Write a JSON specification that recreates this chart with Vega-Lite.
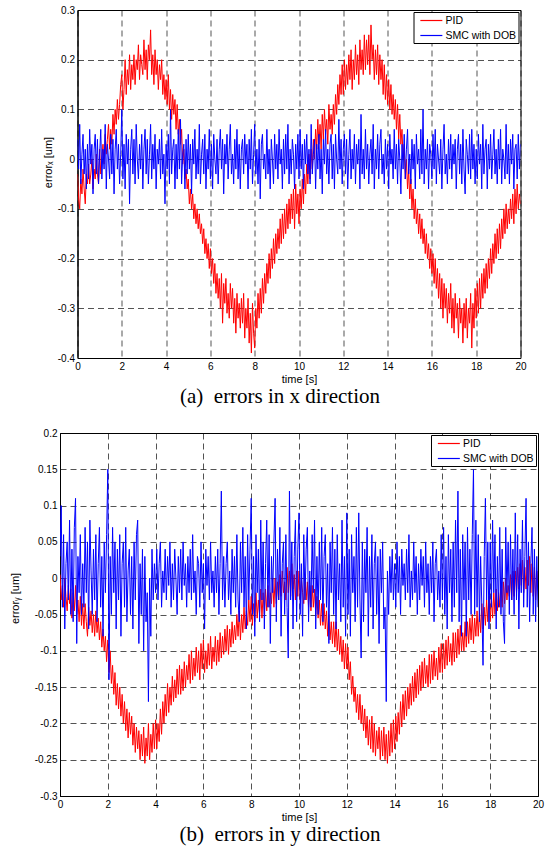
{
"$schema": "https://vega.github.io/schema/vega-lite/v6.json",
"background": "white",
"padding": {"left": 8, "top": 4, "right": 5, "bottom": 0},
"spacing": 75,
"center": true,
"bounds": "flush",
"config": {
  "font": "Liberation Sans",
  "view": {"stroke": "#000", "strokeWidth": 1},
  "axis": {"domainColor": "#000", "domainWidth": 1, "grid": true, "gridColor": "#000", "gridDash": [6, 4], "gridWidth": 0.8, "gridOpacity": 0.85, "ticks": false, "labelFont": "Liberation Sans", "labelFontSize": 10, "labelColor": "#000", "labelPadding": 3, "titleFont": "Liberation Sans", "titleFontSize": 11, "titleFontWeight": "normal", "titleColor": "#000", "labelFlush": false, "labelOverlap": false},
  "legend": {"orient": "top-right", "offset": 2, "strokeColor": "#000", "fillColor": "#fff", "padding": 2, "symbolType": "M-0.3,0H3.7", "symbolSize": 121, "symbolStrokeWidth": 1.2, "labelFont": "Liberation Sans", "labelFontSize": 10.5, "labelColor": "#000", "labelOffset": 17, "rowPadding": 3},
  "title": {"font": "Liberation Serif", "fontSize": 21, "fontWeight": "normal", "color": "#000", "orient": "bottom", "anchor": "middle", "offset": 2}
},
"datasets": {
"a": [
{"t":0,"p":-0.03,"s":0.04},{"t":0.05,"p":-0.08,"s":-0.02},{"t":0.1,"p":-0.1,"s":0.07},{"t":0.15,"p":-0.04,"s":-0.05},{"t":0.2,"p":-0.07,"s":0.01},{"t":0.25,"p":-0.02,"s":0.05},{"t":0.3,"p":-0.06,"s":-0.03},{"t":0.35,"p":-0.09,"s":0.02},{"t":0.4,"p":-0.03,"s":-0.06},{"t":0.45,"p":-0.05,"s":0.03},
{"t":0.5,"p":-0.01,"s":-0.04},{"t":0.55,"p":-0.05,"s":0.06},{"t":0.6,"p":-0.03,"s":-0.01},{"t":0.65,"p":0,"s":0.03},{"t":0.7,"p":-0.06,"s":-0.07},{"t":0.75,"p":-0.02,"s":0.02},{"t":0.8,"p":-0.04,"s":0.05},{"t":0.85,"p":0.01,"s":-0.03},{"t":0.9,"p":-0.03,"s":0.04},{"t":0.95,"p":-0.05,"s":-0.05},
{"t":1,"p":0.02,"s":0.01},{"t":1.05,"p":-0.03,"s":0.06},{"t":1.1,"p":0,"s":-0.04},{"t":1.15,"p":0.03,"s":0.02},{"t":1.2,"p":-0.01,"s":-0.02},{"t":1.25,"p":0.05,"s":0.07},{"t":1.3,"p":0.01,"s":-0.06},{"t":1.35,"p":0.04,"s":0.03},{"t":1.4,"p":0.07,"s":0},{"t":1.45,"p":0.02,"s":-0.04},
{"t":1.5,"p":0.06,"s":0.05},{"t":1.55,"p":0.03,"s":-0.03},{"t":1.6,"p":0.09,"s":0.04},{"t":1.65,"p":0.05,"s":-0.07},{"t":1.7,"p":0.1,"s":0.02},{"t":1.75,"p":0.07,"s":0.06},{"t":1.8,"p":0.12,"s":-0.02},{"t":1.85,"p":0.08,"s":0.03},{"t":1.9,"p":0.11,"s":-0.05},{"t":1.95,"p":0.15,"s":0.01},
{"t":2,"p":0.17,"s":0.1},{"t":2.05,"p":0.1,"s":-0.04},{"t":2.1,"p":0.14,"s":0.03},{"t":2.15,"p":0.2,"s":-0.06},{"t":2.2,"p":0.13,"s":0.05},{"t":2.25,"p":0.18,"s":-0.01},{"t":2.3,"p":0.15,"s":0.04},{"t":2.35,"p":0.21,"s":-0.09},{"t":2.4,"p":0.14,"s":0.02},{"t":2.45,"p":0.19,"s":0.06},
{"t":2.5,"p":0.16,"s":-0.03},{"t":2.55,"p":0.21,"s":0.04},{"t":2.6,"p":0.15,"s":-0.05},{"t":2.65,"p":0.2,"s":0.07},{"t":2.7,"p":0.18,"s":0},{"t":2.75,"p":0.23,"s":-0.04},{"t":2.8,"p":0.16,"s":0.03},{"t":2.85,"p":0.21,"s":-0.02},{"t":2.9,"p":0.19,"s":0.05},{"t":2.95,"p":0.17,"s":-0.06},
{"t":3,"p":0.24,"s":0.02},{"t":3.05,"p":0.18,"s":0.06},{"t":3.1,"p":0.22,"s":-0.03},{"t":3.15,"p":0.16,"s":0.04},{"t":3.2,"p":0.23,"s":-0.05},{"t":3.25,"p":0.2,"s":0.01},{"t":3.3,"p":0.26,"s":0.07},{"t":3.35,"p":0.17,"s":-0.04},{"t":3.4,"p":0.21,"s":0.03},{"t":3.45,"p":0.15,"s":-0.02},
{"t":3.5,"p":0.22,"s":0.05},{"t":3.55,"p":0.17,"s":-0.06},{"t":3.6,"p":0.2,"s":0.02},{"t":3.65,"p":0.14,"s":-0.01},{"t":3.7,"p":0.19,"s":0.04},{"t":3.75,"p":0.16,"s":-0.04},{"t":3.8,"p":0.2,"s":0.06},{"t":3.85,"p":0.13,"s":-0.03},{"t":3.9,"p":0.17,"s":0.01},{"t":3.95,"p":0.12,"s":-0.09},
{"t":4,"p":0.16,"s":0.03},{"t":4.05,"p":0.11,"s":-0.02},{"t":4.1,"p":0.17,"s":0.05},{"t":4.15,"p":0.1,"s":-0.05},{"t":4.2,"p":0.14,"s":0.1},{"t":4.25,"p":0.08,"s":-0.03},{"t":4.3,"p":0.13,"s":0.02},{"t":4.35,"p":0.09,"s":0.04},{"t":4.4,"p":0.12,"s":-0.06},{"t":4.45,"p":0.06,"s":0.03},
{"t":4.5,"p":0.11,"s":-0.04},{"t":4.55,"p":0.05,"s":0.06},{"t":4.6,"p":0.08,"s":-0.02},{"t":4.65,"p":0.03,"s":0.08},{"t":4.7,"p":0.06,"s":-0.05},{"t":4.75,"p":-0.01,"s":0.01},{"t":4.8,"p":0.02,"s":0.03},{"t":4.85,"p":-0.04,"s":-0.06},{"t":4.9,"p":-0.02,"s":0.04},{"t":4.95,"p":-0.06,"s":-0.03},
{"t":5,"p":-0.04,"s":0.05},{"t":5.05,"p":-0.09,"s":-0.02},{"t":5.1,"p":-0.06,"s":0.03},{"t":5.15,"p":-0.1,"s":-0.07},{"t":5.2,"p":-0.07,"s":0.04},{"t":5.25,"p":-0.12,"s":-0.01},{"t":5.3,"p":-0.09,"s":0.06},{"t":5.35,"p":-0.13,"s":-0.04},{"t":5.4,"p":-0.1,"s":0.02},{"t":5.45,"p":-0.14,"s":-0.03},
{"t":5.5,"p":-0.11,"s":0.07},{"t":5.55,"p":-0.15,"s":-0.05},{"t":5.6,"p":-0.13,"s":0.01},{"t":5.65,"p":-0.17,"s":0.04},{"t":5.7,"p":-0.14,"s":-0.03},{"t":5.75,"p":-0.19,"s":0.05},{"t":5.8,"p":-0.16,"s":-0.06},{"t":5.85,"p":-0.2,"s":0.02},{"t":5.9,"p":-0.17,"s":-0.02},{"t":5.95,"p":-0.22,"s":0.06},
{"t":6,"p":-0.18,"s":-0.04},{"t":6.05,"p":-0.23,"s":0.03},{"t":6.1,"p":-0.2,"s":-0.06},{"t":6.15,"p":-0.25,"s":0.05},{"t":6.2,"p":-0.21,"s":0},{"t":6.25,"p":-0.27,"s":-0.03},{"t":6.3,"p":-0.23,"s":0.04},{"t":6.35,"p":-0.28,"s":-0.05},{"t":6.4,"p":-0.24,"s":0.02},{"t":6.45,"p":-0.3,"s":0.06},
{"t":6.5,"p":-0.23,"s":-0.02},{"t":6.55,"p":-0.33,"s":0.04},{"t":6.6,"p":-0.25,"s":-0.07},{"t":6.65,"p":-0.29,"s":0.03},{"t":6.7,"p":-0.24,"s":-0.01},{"t":6.75,"p":-0.31,"s":0.05},{"t":6.8,"p":-0.27,"s":-0.04},{"t":6.85,"p":-0.32,"s":0.02},{"t":6.9,"p":-0.25,"s":0.07},{"t":6.95,"p":-0.3,"s":-0.03},
{"t":7,"p":-0.26,"s":0.01},{"t":7.05,"p":-0.33,"s":-0.05},{"t":7.1,"p":-0.28,"s":0.04},{"t":7.15,"p":-0.35,"s":-0.02},{"t":7.2,"p":-0.27,"s":0.06},{"t":7.25,"p":-0.32,"s":-0.04},{"t":7.3,"p":-0.29,"s":0.03},{"t":7.35,"p":-0.34,"s":-0.06},{"t":7.4,"p":-0.28,"s":0.02},{"t":7.45,"p":-0.33,"s":0.04},
{"t":7.5,"p":-0.27,"s":-0.03},{"t":7.55,"p":-0.36,"s":0.05},{"t":7.6,"p":-0.3,"s":-0.01},{"t":7.65,"p":-0.34,"s":0.03},{"t":7.7,"p":-0.28,"s":-0.06},{"t":7.75,"p":-0.37,"s":0.04},{"t":7.8,"p":-0.31,"s":-0.02},{"t":7.85,"p":-0.39,"s":0.06},{"t":7.9,"p":-0.29,"s":-0.05},{"t":7.95,"p":-0.35,"s":0.01},
{"t":8,"p":-0.38,"s":0.07},{"t":8.05,"p":-0.3,"s":-0.03},{"t":8.1,"p":-0.34,"s":0.02},{"t":8.15,"p":-0.27,"s":-0.05},{"t":8.2,"p":-0.32,"s":0.04},{"t":8.25,"p":-0.26,"s":-0.08},{"t":8.3,"p":-0.31,"s":0.03},{"t":8.35,"p":-0.24,"s":0.05},{"t":8.4,"p":-0.29,"s":-0.02},{"t":8.45,"p":-0.23,"s":0.01},
{"t":8.5,"p":-0.27,"s":-0.04},{"t":8.55,"p":-0.21,"s":0.06},{"t":8.6,"p":-0.25,"s":-0.03},{"t":8.65,"p":-0.19,"s":0.02},{"t":8.7,"p":-0.24,"s":-0.06},{"t":8.75,"p":-0.18,"s":0.04},{"t":8.8,"p":-0.22,"s":0},{"t":8.85,"p":-0.16,"s":-0.05},{"t":8.9,"p":-0.21,"s":0.05},{"t":8.95,"p":-0.15,"s":-0.02},
{"t":9,"p":-0.19,"s":0.03},{"t":9.05,"p":-0.14,"s":-0.04},{"t":9.1,"p":-0.18,"s":0.06},{"t":9.15,"p":-0.12,"s":-0.01},{"t":9.2,"p":-0.17,"s":0.02},{"t":9.25,"p":-0.11,"s":-0.06},{"t":9.3,"p":-0.16,"s":0.04},{"t":9.35,"p":-0.1,"s":-0.03},{"t":9.4,"p":-0.15,"s":0.05},{"t":9.45,"p":-0.09,"s":-0.02},
{"t":9.5,"p":-0.14,"s":0.07},{"t":9.55,"p":-0.08,"s":-0.05},{"t":9.6,"p":-0.13,"s":0.02},{"t":9.65,"p":-0.07,"s":-0.03},{"t":9.7,"p":-0.12,"s":0.04},{"t":9.75,"p":-0.06,"s":0.01},{"t":9.8,"p":-0.14,"s":-0.06},{"t":9.85,"p":-0.05,"s":0.03},{"t":9.9,"p":-0.11,"s":-0.02},{"t":9.95,"p":-0.07,"s":0.05},
{"t":10,"p":-0.13,"s":-0.04},{"t":10.05,"p":-0.06,"s":0.06},{"t":10.1,"p":-0.1,"s":-0.02},{"t":10.15,"p":-0.04,"s":0.03},{"t":10.2,"p":-0.09,"s":-0.06},{"t":10.25,"p":-0.03,"s":0.04},{"t":10.3,"p":-0.07,"s":-0.01},{"t":10.35,"p":-0.01,"s":0.05},{"t":10.4,"p":-0.05,"s":-0.03},{"t":10.45,"p":0.01,"s":0.02},
{"t":10.5,"p":-0.04,"s":-0.05},{"t":10.55,"p":0.02,"s":0.07},{"t":10.6,"p":-0.02,"s":-0.03},{"t":10.65,"p":0.04,"s":0.01},{"t":10.7,"p":0,"s":0.04},{"t":10.75,"p":0.06,"s":-0.06},{"t":10.8,"p":0.02,"s":0.03},{"t":10.85,"p":0.08,"s":-0.02},{"t":10.9,"p":0.03,"s":0.05},{"t":10.95,"p":0.07,"s":-0.04},
{"t":11,"p":0.02,"s":0.02},{"t":11.05,"p":0.09,"s":-0.07},{"t":11.1,"p":0.04,"s":0.04},{"t":11.15,"p":0.1,"s":-0.01},{"t":11.2,"p":0.05,"s":0.06},{"t":11.25,"p":0.08,"s":-0.03},{"t":11.3,"p":0.03,"s":0.02},{"t":11.35,"p":0.11,"s":-0.05},{"t":11.4,"p":0.06,"s":0.03},{"t":11.45,"p":0.09,"s":0.05},
{"t":11.5,"p":0.05,"s":-0.04},{"t":11.55,"p":0.11,"s":0.03},{"t":11.6,"p":0.07,"s":-0.06},{"t":11.65,"p":0.13,"s":0.05},{"t":11.7,"p":0.09,"s":0},{"t":11.75,"p":0.15,"s":-0.03},{"t":11.8,"p":0.11,"s":0.08},{"t":11.85,"p":0.17,"s":-0.02},{"t":11.9,"p":0.13,"s":0.04},{"t":11.95,"p":0.19,"s":-0.05},
{"t":12,"p":0.13,"s":0.02},{"t":12.05,"p":0.2,"s":0.05},{"t":12.1,"p":0.14,"s":-0.03},{"t":12.15,"p":0.19,"s":0.04},{"t":12.2,"p":0.15,"s":-0.06},{"t":12.25,"p":0.21,"s":0.01},{"t":12.3,"p":0.16,"s":0.06},{"t":12.35,"p":0.22,"s":-0.04},{"t":12.4,"p":0.14,"s":0.02},{"t":12.45,"p":0.2,"s":-0.02},
{"t":12.5,"p":0.16,"s":0.05},{"t":12.55,"p":0.23,"s":-0.05},{"t":12.6,"p":0.17,"s":0.03},{"t":12.65,"p":0.21,"s":-0.01},{"t":12.7,"p":0.15,"s":0.04},{"t":12.75,"p":0.24,"s":-0.06},{"t":12.8,"p":0.18,"s":0.09},{"t":12.85,"p":0.22,"s":-0.03},{"t":12.9,"p":0.17,"s":0.02},{"t":12.95,"p":0.25,"s":-0.04},
{"t":13,"p":0.18,"s":0.06},{"t":13.05,"p":0.24,"s":-0.02},{"t":13.1,"p":0.19,"s":0.03},{"t":13.15,"p":0.25,"s":-0.05},{"t":13.2,"p":0.17,"s":0.01},{"t":13.25,"p":0.27,"s":0.04},{"t":13.3,"p":0.2,"s":-0.03},{"t":13.35,"p":0.23,"s":0.07},{"t":13.4,"p":0.16,"s":-0.06},{"t":13.45,"p":0.22,"s":0.02},
{"t":13.5,"p":0.17,"s":-0.02},{"t":13.55,"p":0.23,"s":0.05},{"t":13.6,"p":0.15,"s":-0.04},{"t":13.65,"p":0.21,"s":0.03},{"t":13.7,"p":0.16,"s":0.06},{"t":13.75,"p":0.2,"s":-0.03},{"t":13.8,"p":0.13,"s":0.01},{"t":13.85,"p":0.19,"s":-0.05},{"t":13.9,"p":0.12,"s":0.04},{"t":13.95,"p":0.17,"s":-0.02},
{"t":14,"p":0.11,"s":0.03},{"t":14.05,"p":0.16,"s":-0.06},{"t":14.1,"p":0.1,"s":0.05},{"t":14.15,"p":0.15,"s":-0.01},{"t":14.2,"p":0.09,"s":0.02},{"t":14.25,"p":0.13,"s":-0.04},{"t":14.3,"p":0.08,"s":0.06},{"t":14.35,"p":0.12,"s":-0.02},{"t":14.4,"p":0.06,"s":0.03},{"t":14.45,"p":0.11,"s":-0.05},
{"t":14.5,"p":0.04,"s":0.04},{"t":14.55,"p":0.09,"s":0},{"t":14.6,"p":0.03,"s":-0.07},{"t":14.65,"p":0.06,"s":0.03},{"t":14.7,"p":0,"s":-0.02},{"t":14.75,"p":0.03,"s":0.05},{"t":14.8,"p":-0.04,"s":-0.04},{"t":14.85,"p":0,"s":0.02},{"t":14.9,"p":-0.06,"s":0.06},{"t":14.95,"p":-0.02,"s":-0.03},
{"t":15,"p":-0.08,"s":0.01},{"t":15.05,"p":-0.04,"s":-0.05},{"t":15.1,"p":-0.1,"s":0.04},{"t":15.15,"p":-0.06,"s":-0.02},{"t":15.2,"p":-0.12,"s":0.03},{"t":15.25,"p":-0.08,"s":-0.06},{"t":15.3,"p":-0.13,"s":0.05},{"t":15.35,"p":-0.1,"s":-0.01},{"t":15.4,"p":-0.15,"s":0.02},{"t":15.45,"p":-0.11,"s":-0.04},
{"t":15.5,"p":-0.16,"s":0.06},{"t":15.55,"p":-0.12,"s":-0.03},{"t":15.6,"p":-0.17,"s":0.1},{"t":15.65,"p":-0.14,"s":-0.05},{"t":15.7,"p":-0.19,"s":0.02},{"t":15.75,"p":-0.15,"s":-0.02},{"t":15.8,"p":-0.2,"s":0.04},{"t":15.85,"p":-0.17,"s":-0.06},{"t":15.9,"p":-0.22,"s":0.03},{"t":15.95,"p":-0.18,"s":0.01},
{"t":16,"p":-0.23,"s":-0.04},{"t":16.05,"p":-0.19,"s":0.05},{"t":16.1,"p":-0.25,"s":-0.02},{"t":16.15,"p":-0.2,"s":0.06},{"t":16.2,"p":-0.26,"s":-0.05},{"t":16.25,"p":-0.22,"s":0.03},{"t":16.3,"p":-0.28,"s":0},{"t":16.35,"p":-0.23,"s":-0.03},{"t":16.4,"p":-0.3,"s":0.04},{"t":16.45,"p":-0.24,"s":-0.06},
{"t":16.5,"p":-0.32,"s":0.02},{"t":16.55,"p":-0.25,"s":0.07},{"t":16.6,"p":-0.3,"s":-0.03},{"t":16.65,"p":-0.26,"s":0.01},{"t":16.7,"p":-0.33,"s":-0.05},{"t":16.75,"p":-0.27,"s":0.04},{"t":16.8,"p":-0.31,"s":-0.02},{"t":16.85,"p":-0.25,"s":0.05},{"t":16.9,"p":-0.34,"s":-0.04},{"t":16.95,"p":-0.28,"s":0.03},
{"t":17,"p":-0.35,"s":-0.01},{"t":17.05,"p":-0.27,"s":0.04},{"t":17.1,"p":-0.32,"s":-0.06},{"t":17.15,"p":-0.29,"s":0.02},{"t":17.2,"p":-0.36,"s":0.05},{"t":17.25,"p":-0.28,"s":-0.03},{"t":17.3,"p":-0.33,"s":0.03},{"t":17.35,"p":-0.3,"s":-0.05},{"t":17.4,"p":-0.37,"s":0.06},{"t":17.45,"p":-0.29,"s":-0.02},
{"t":17.5,"p":-0.34,"s":-0.07},{"t":17.55,"p":-0.28,"s":0.04},{"t":17.6,"p":-0.36,"s":0.01},{"t":17.65,"p":-0.3,"s":-0.03},{"t":17.7,"p":-0.33,"s":0.05},{"t":17.75,"p":-0.27,"s":-0.04},{"t":17.8,"p":-0.38,"s":0.06},{"t":17.85,"p":-0.29,"s":-0.02},{"t":17.9,"p":-0.34,"s":0.03},{"t":17.95,"p":-0.26,"s":-0.05},
{"t":18,"p":-0.32,"s":0.02},{"t":18.05,"p":-0.25,"s":-0.04},{"t":18.1,"p":-0.31,"s":0.05},{"t":18.15,"p":-0.24,"s":-0.01},{"t":18.2,"p":-0.3,"s":0.03},{"t":18.25,"p":-0.23,"s":-0.06},{"t":18.3,"p":-0.28,"s":0.07},{"t":18.35,"p":-0.22,"s":-0.03},{"t":18.4,"p":-0.27,"s":0.02},{"t":18.45,"p":-0.21,"s":0.04},
{"t":18.5,"p":-0.26,"s":-0.06},{"t":18.55,"p":-0.2,"s":0.03},{"t":18.6,"p":-0.24,"s":-0.02},{"t":18.65,"p":-0.18,"s":0.05},{"t":18.7,"p":-0.23,"s":-0.04},{"t":18.75,"p":-0.17,"s":0.01},{"t":18.8,"p":-0.21,"s":0.06},{"t":18.85,"p":-0.15,"s":-0.03},{"t":18.9,"p":-0.2,"s":0.02},{"t":18.95,"p":-0.14,"s":-0.05},
{"t":19,"p":-0.19,"s":0.04},{"t":19.05,"p":-0.13,"s":-0.02},{"t":19.1,"p":-0.18,"s":0.06},{"t":19.15,"p":-0.12,"s":-0.05},{"t":19.2,"p":-0.16,"s":0.02},{"t":19.25,"p":-0.1,"s":0},{"t":19.3,"p":-0.15,"s":-0.04},{"t":19.35,"p":-0.09,"s":0.07},{"t":19.4,"p":-0.14,"s":-0.03},{"t":19.45,"p":-0.1,"s":0.03},
{"t":19.5,"p":-0.13,"s":-0.05},{"t":19.55,"p":-0.08,"s":0.04},{"t":19.6,"p":-0.12,"s":-0.01},{"t":19.65,"p":-0.07,"s":0.05},{"t":19.7,"p":-0.13,"s":-0.06},{"t":19.75,"p":-0.06,"s":0.02},{"t":19.8,"p":-0.11,"s":0.03},{"t":19.85,"p":-0.05,"s":-0.04},{"t":19.9,"p":-0.1,"s":0.05},{"t":19.95,"p":-0.07,"s":-0.02},
{"t":20,"p":-0.09,"s":0.03}
],
"b": [
{"t":0,"p":0.005,"s":0.03},{"t":0.05,"p":-0.03,"s":0.1},{"t":0.1,"p":-0.01,"s":-0.04},{"t":0.15,"p":-0.04,"s":0.06},{"t":0.2,"p":0,"s":-0.07},{"t":0.25,"p":-0.025,"s":0.02},{"t":0.3,"p":-0.045,"s":0.05},{"t":0.35,"p":-0.01,"s":-0.03},{"t":0.4,"p":-0.035,"s":0.08},{"t":0.45,"p":-0.015,"s":-0.05},
{"t":0.5,"p":-0.055,"s":0.04},{"t":0.55,"p":-0.02,"s":-0.06},{"t":0.6,"p":-0.045,"s":0.07},{"t":0.65,"p":-0.01,"s":0.11},{"t":0.7,"p":-0.05,"s":-0.09},{"t":0.75,"p":-0.03,"s":0.03},{"t":0.8,"p":-0.06,"s":-0.02},{"t":0.85,"p":-0.025,"s":0.06},{"t":0.9,"p":-0.065,"s":-0.05},{"t":0.95,"p":-0.035,"s":0.02},
{"t":1,"p":-0.07,"s":-0.04},{"t":1.05,"p":-0.035,"s":0.07},{"t":1.1,"p":-0.06,"s":-0.02},{"t":1.15,"p":-0.08,"s":0.05},{"t":1.2,"p":-0.04,"s":-0.07},{"t":1.25,"p":-0.065,"s":0.08},{"t":1.3,"p":-0.045,"s":0.01},{"t":1.35,"p":-0.075,"s":-0.05},{"t":1.4,"p":-0.05,"s":0.04},{"t":1.45,"p":-0.08,"s":-0.03},
{"t":1.5,"p":-0.045,"s":0.06},{"t":1.55,"p":-0.075,"s":-0.06},{"t":1.6,"p":-0.055,"s":0.02},{"t":1.65,"p":-0.085,"s":0.07},{"t":1.7,"p":-0.06,"s":-0.04},{"t":1.75,"p":-0.095,"s":0.03},{"t":1.8,"p":-0.07,"s":-0.08},{"t":1.85,"p":-0.1,"s":0.05},{"t":1.9,"p":-0.08,"s":-0.02},{"t":1.95,"p":-0.115,"s":0.06},
{"t":2,"p":-0.085,"s":0.15},{"t":2.05,"p":-0.13,"s":-0.14},{"t":2.1,"p":-0.1,"s":0.03},{"t":2.15,"p":-0.145,"s":-0.05},{"t":2.2,"p":-0.12,"s":0.07},{"t":2.25,"p":-0.16,"s":-0.02},{"t":2.3,"p":-0.13,"s":0.05},{"t":2.35,"p":-0.175,"s":-0.07},{"t":2.4,"p":-0.145,"s":0.04},{"t":2.45,"p":-0.18,"s":-0.03},
{"t":2.5,"p":-0.15,"s":0.06},{"t":2.55,"p":-0.19,"s":-0.08},{"t":2.6,"p":-0.16,"s":0.02},{"t":2.65,"p":-0.2,"s":0.05},{"t":2.7,"p":-0.17,"s":-0.04},{"t":2.75,"p":-0.21,"s":0.07},{"t":2.8,"p":-0.18,"s":-0.06},{"t":2.85,"p":-0.22,"s":0.01},{"t":2.9,"p":-0.185,"s":0.04},{"t":2.95,"p":-0.215,"s":-0.05},
{"t":3,"p":-0.19,"s":0.03},{"t":3.05,"p":-0.23,"s":-0.07},{"t":3.1,"p":-0.2,"s":0.05},{"t":3.15,"p":-0.24,"s":-0.03},{"t":3.2,"p":-0.205,"s":0.06},{"t":3.25,"p":-0.235,"s":0.08},{"t":3.3,"p":-0.21,"s":-0.09},{"t":3.35,"p":-0.25,"s":0.02},{"t":3.4,"p":-0.215,"s":-0.05},{"t":3.45,"p":-0.245,"s":0.04},
{"t":3.5,"p":-0.205,"s":-0.1},{"t":3.55,"p":-0.255,"s":0.03},{"t":3.6,"p":-0.22,"s":-0.06},{"t":3.65,"p":-0.245,"s":-0.02},{"t":3.7,"p":-0.2,"s":-0.17},{"t":3.75,"p":-0.25,"s":0},{"t":3.8,"p":-0.215,"s":-0.08},{"t":3.85,"p":-0.24,"s":0.04},{"t":3.9,"p":-0.2,"s":-0.03},{"t":3.95,"p":-0.235,"s":0.02},
{"t":4,"p":-0.195,"s":-0.02},{"t":4.05,"p":-0.235,"s":0.04},{"t":4.1,"p":-0.2,"s":-0.03},{"t":4.15,"p":-0.225,"s":0.02},{"t":4.2,"p":-0.18,"s":0.05},{"t":4.25,"p":-0.215,"s":-0.04},{"t":4.3,"p":-0.17,"s":0.01},{"t":4.35,"p":-0.2,"s":-0.02},{"t":4.4,"p":-0.16,"s":0.04},{"t":4.45,"p":-0.19,"s":-0.03},
{"t":4.5,"p":-0.145,"s":0.03},{"t":4.55,"p":-0.185,"s":-0.01},{"t":4.6,"p":-0.15,"s":0.05},{"t":4.65,"p":-0.175,"s":-0.04},{"t":4.7,"p":-0.135,"s":0.02},{"t":4.75,"p":-0.17,"s":-0.03},{"t":4.8,"p":-0.14,"s":0.04},{"t":4.85,"p":-0.165,"s":0},{"t":4.9,"p":-0.125,"s":-0.05},{"t":4.95,"p":-0.16,"s":0.03},
{"t":5,"p":-0.12,"s":-0.02},{"t":5.05,"p":-0.16,"s":0.04},{"t":5.1,"p":-0.125,"s":-0.03},{"t":5.15,"p":-0.155,"s":0.05},{"t":5.2,"p":-0.115,"s":-0.01},{"t":5.25,"p":-0.15,"s":0.02},{"t":5.3,"p":-0.12,"s":-0.04},{"t":5.35,"p":-0.14,"s":0.03},{"t":5.4,"p":-0.105,"s":-0.02},{"t":5.45,"p":-0.145,"s":0.04},
{"t":5.5,"p":-0.1,"s":-0.03},{"t":5.55,"p":-0.14,"s":0.06},{"t":5.6,"p":-0.11,"s":-0.02},{"t":5.65,"p":-0.135,"s":0.01},{"t":5.7,"p":-0.095,"s":-0.05},{"t":5.75,"p":-0.13,"s":0.03},{"t":5.8,"p":-0.1,"s":0.02},{"t":5.85,"p":-0.14,"s":-0.04},{"t":5.9,"p":-0.09,"s":0.05},{"t":5.95,"p":-0.125,"s":-0.02},
{"t":6,"p":-0.085,"s":0.02},{"t":6.05,"p":-0.13,"s":-0.07},{"t":6.1,"p":-0.1,"s":0.04},{"t":6.15,"p":-0.125,"s":-0.01},{"t":6.2,"p":-0.09,"s":0.03},{"t":6.25,"p":-0.12,"s":-0.03},{"t":6.3,"p":-0.08,"s":0.05},{"t":6.35,"p":-0.125,"s":-0.02},{"t":6.4,"p":-0.095,"s":0.01},{"t":6.45,"p":-0.115,"s":-0.04},
{"t":6.5,"p":-0.08,"s":0.03},{"t":6.55,"p":-0.12,"s":-0.02},{"t":6.6,"p":-0.085,"s":0.04},{"t":6.65,"p":-0.115,"s":-0.05},{"t":6.7,"p":-0.075,"s":0.02},{"t":6.75,"p":-0.11,"s":0.12},{"t":6.8,"p":-0.08,"s":-0.03},{"t":6.85,"p":-0.105,"s":0.03},{"t":6.9,"p":-0.07,"s":-0.04},{"t":6.95,"p":-0.1,"s":0.02},
{"t":7,"p":-0.065,"s":0.05},{"t":7.05,"p":-0.105,"s":-0.03},{"t":7.1,"p":-0.07,"s":0.01},{"t":7.15,"p":-0.095,"s":-0.05},{"t":7.2,"p":-0.06,"s":0.04},{"t":7.25,"p":-0.09,"s":-0.02},{"t":7.3,"p":-0.065,"s":0.03},{"t":7.35,"p":-0.085,"s":-0.04},{"t":7.4,"p":-0.05,"s":0.06},{"t":7.45,"p":-0.08,"s":-0.03},
{"t":7.5,"p":-0.045,"s":-0.06},{"t":7.55,"p":-0.085,"s":0.05},{"t":7.6,"p":-0.05,"s":-0.02},{"t":7.65,"p":-0.075,"s":0.07},{"t":7.7,"p":-0.04,"s":-0.04},{"t":7.75,"p":-0.07,"s":0.03},{"t":7.8,"p":-0.045,"s":-0.07},{"t":7.85,"p":-0.065,"s":0.06},{"t":7.9,"p":-0.03,"s":-0.03},{"t":7.95,"p":-0.06,"s":0.04},
{"t":8,"p":-0.025,"s":0.11},{"t":8.05,"p":-0.065,"s":-0.05},{"t":8.1,"p":-0.035,"s":0.03},{"t":8.15,"p":-0.06,"s":-0.08},{"t":8.2,"p":-0.02,"s":0.06},{"t":8.25,"p":-0.055,"s":-0.02},{"t":8.3,"p":-0.03,"s":0.04},{"t":8.35,"p":-0.05,"s":-0.06},{"t":8.4,"p":-0.015,"s":0.08},{"t":8.45,"p":-0.055,"s":-0.03},
{"t":8.5,"p":-0.02,"s":0.05},{"t":8.55,"p":-0.05,"s":-0.07},{"t":8.6,"p":-0.015,"s":0.02},{"t":8.65,"p":-0.045,"s":0.08},{"t":8.7,"p":-0.01,"s":-0.04},{"t":8.75,"p":-0.04,"s":0.06},{"t":8.8,"p":-0.02,"s":-0.09},{"t":8.85,"p":-0.035,"s":0.03},{"t":8.9,"p":0,"s":-0.02},{"t":8.95,"p":-0.04,"s":0.05},
{"t":9,"p":0,"s":0.11},{"t":9.05,"p":-0.035,"s":-0.06},{"t":9.1,"p":-0.005,"s":0.04},{"t":9.15,"p":-0.03,"s":-0.03},{"t":9.2,"p":0.005,"s":0.07},{"t":9.25,"p":-0.025,"s":-0.08},{"t":9.3,"p":0.01,"s":0.02},{"t":9.35,"p":-0.02,"s":0.05},{"t":9.4,"p":-0.005,"s":-0.05},{"t":9.45,"p":-0.03,"s":0.06},
{"t":9.5,"p":0.015,"s":-0.04},{"t":9.55,"p":-0.02,"s":-0.11},{"t":9.6,"p":0.01,"s":0.12},{"t":9.65,"p":-0.025,"s":-0.03},{"t":9.7,"p":0.02,"s":0.05},{"t":9.75,"p":-0.015,"s":-0.07},{"t":9.8,"p":0.005,"s":0.03},{"t":9.85,"p":-0.03,"s":0.08},{"t":9.9,"p":0.01,"s":-0.06},{"t":9.95,"p":-0.025,"s":0.04},
{"t":10,"p":0.01,"s":0.09},{"t":10.05,"p":-0.03,"s":-0.05},{"t":10.1,"p":0,"s":0.02},{"t":10.15,"p":-0.02,"s":-0.08},{"t":10.2,"p":-0.035,"s":0.06},{"t":10.25,"p":0,"s":-0.03},{"t":10.3,"p":-0.03,"s":0.04},{"t":10.35,"p":-0.005,"s":0.07},{"t":10.4,"p":-0.04,"s":-0.06},{"t":10.45,"p":-0.01,"s":0.01},
{"t":10.5,"p":-0.045,"s":-0.04},{"t":10.55,"p":-0.01,"s":0.06},{"t":10.6,"p":-0.04,"s":-0.02},{"t":10.65,"p":-0.015,"s":0.08},{"t":10.7,"p":-0.05,"s":-0.07},{"t":10.75,"p":-0.025,"s":0.03},{"t":10.8,"p":-0.055,"s":-0.05},{"t":10.85,"p":-0.03,"s":0.05},{"t":10.9,"p":-0.065,"s":-0.03},{"t":10.95,"p":-0.035,"s":0.07},
{"t":11,"p":-0.065,"s":-0.06},{"t":11.05,"p":-0.035,"s":0.03},{"t":11.1,"p":-0.07,"s":0.06},{"t":11.15,"p":-0.045,"s":-0.04},{"t":11.2,"p":-0.08,"s":0.02},{"t":11.25,"p":-0.05,"s":-0.09},{"t":11.3,"p":-0.085,"s":0.05},{"t":11.35,"p":-0.06,"s":-0.02},{"t":11.4,"p":-0.09,"s":0.07},{"t":11.45,"p":-0.06,"s":-0.05},
{"t":11.5,"p":-0.095,"s":0.04},{"t":11.55,"p":-0.06,"s":-0.07},{"t":11.6,"p":-0.1,"s":0.06},{"t":11.65,"p":-0.07,"s":-0.03},{"t":11.7,"p":-0.105,"s":0.02},{"t":11.75,"p":-0.08,"s":-0.06},{"t":11.8,"p":-0.115,"s":0.08},{"t":11.85,"p":-0.085,"s":-0.04},{"t":11.9,"p":-0.125,"s":0.03},{"t":11.95,"p":-0.09,"s":-0.08},
{"t":12,"p":-0.125,"s":0.09},{"t":12.05,"p":-0.095,"s":-0.05},{"t":12.1,"p":-0.14,"s":0.04},{"t":12.15,"p":-0.115,"s":-0.08},{"t":12.2,"p":-0.16,"s":0.06},{"t":12.25,"p":-0.135,"s":-0.02},{"t":12.3,"p":-0.17,"s":0.03},{"t":12.35,"p":-0.15,"s":-0.06},{"t":12.4,"p":-0.185,"s":0.07},{"t":12.45,"p":-0.16,"s":-0.04},
{"t":12.5,"p":-0.195,"s":0.09},{"t":12.55,"p":-0.16,"s":-0.03},{"t":12.6,"p":-0.2,"s":-0.11},{"t":12.65,"p":-0.175,"s":0.05},{"t":12.7,"p":-0.21,"s":-0.06},{"t":12.75,"p":-0.18,"s":0.04},{"t":12.8,"p":-0.22,"s":-0.02},{"t":12.85,"p":-0.19,"s":0.07},{"t":12.9,"p":-0.23,"s":-0.08},{"t":12.95,"p":-0.195,"s":0.03},
{"t":13,"p":-0.235,"s":-0.04},{"t":13.05,"p":-0.19,"s":0.06},{"t":13.1,"p":-0.24,"s":-0.07},{"t":13.15,"p":-0.2,"s":0.02},{"t":13.2,"p":-0.245,"s":0.05},{"t":13.25,"p":-0.21,"s":-0.05},{"t":13.3,"p":-0.235,"s":0.03},{"t":13.35,"p":-0.205,"s":-0.09},{"t":13.4,"p":-0.25,"s":0.04},{"t":13.45,"p":-0.21,"s":-0.02},
{"t":13.5,"p":-0.245,"s":0.05},{"t":13.55,"p":-0.205,"s":-0.07},{"t":13.6,"p":-0.25,"s":-0.04},{"t":13.65,"p":-0.215,"s":-0.17},{"t":13.7,"p":-0.255,"s":0.01},{"t":13.75,"p":-0.21,"s":-0.05},{"t":13.8,"p":-0.245,"s":0.03},{"t":13.85,"p":-0.2,"s":-0.02},{"t":13.9,"p":-0.24,"s":0.04},{"t":13.95,"p":-0.195,"s":-0.03},
{"t":14,"p":-0.235,"s":0.02},{"t":14.05,"p":-0.19,"s":-0.04},{"t":14.1,"p":-0.225,"s":0.05},{"t":14.15,"p":-0.185,"s":-0.02},{"t":14.2,"p":-0.215,"s":0.03},{"t":14.25,"p":-0.17,"s":-0.05},{"t":14.3,"p":-0.205,"s":0.04},{"t":14.35,"p":-0.16,"s":-0.01},{"t":14.4,"p":-0.195,"s":0.02},{"t":14.45,"p":-0.155,"s":-0.03},
{"t":14.5,"p":-0.19,"s":0.04},{"t":14.55,"p":-0.15,"s":-0.02},{"t":14.6,"p":-0.18,"s":0.06},{"t":14.65,"p":-0.145,"s":-0.04},{"t":14.7,"p":-0.175,"s":0.01},{"t":14.75,"p":-0.135,"s":-0.03},{"t":14.8,"p":-0.17,"s":0.05},{"t":14.85,"p":-0.13,"s":-0.02},{"t":14.9,"p":-0.165,"s":0.03},{"t":14.95,"p":-0.125,"s":-0.05},
{"t":15,"p":-0.16,"s":0.02},{"t":15.05,"p":-0.12,"s":-0.03},{"t":15.1,"p":-0.155,"s":0.04},{"t":15.15,"p":-0.115,"s":-0.01},{"t":15.2,"p":-0.15,"s":0.03},{"t":15.25,"p":-0.11,"s":-0.04},{"t":15.3,"p":-0.145,"s":0.05},{"t":15.35,"p":-0.12,"s":-0.02},{"t":15.4,"p":-0.15,"s":0.02},{"t":15.45,"p":-0.105,"s":-0.05},
{"t":15.5,"p":-0.145,"s":0.03},{"t":15.55,"p":-0.105,"s":-0.02},{"t":15.6,"p":-0.14,"s":0.05},{"t":15.65,"p":-0.1,"s":-0.06},{"t":15.7,"p":-0.135,"s":0.02},{"t":15.75,"p":-0.11,"s":0.04},{"t":15.8,"p":-0.14,"s":-0.03},{"t":15.85,"p":-0.095,"s":0.01},{"t":15.9,"p":-0.13,"s":-0.04},{"t":15.95,"p":-0.09,"s":0.06},
{"t":16,"p":-0.13,"s":-0.03},{"t":16.05,"p":-0.09,"s":0.07},{"t":16.1,"p":-0.125,"s":-0.05},{"t":16.15,"p":-0.085,"s":0.03},{"t":16.2,"p":-0.12,"s":-0.07},{"t":16.25,"p":-0.08,"s":0.06},{"t":16.3,"p":-0.115,"s":-0.02},{"t":16.35,"p":-0.09,"s":0.04},{"t":16.4,"p":-0.12,"s":-0.06},{"t":16.45,"p":-0.075,"s":0.05},
{"t":16.5,"p":-0.115,"s":-0.04},{"t":16.55,"p":-0.075,"s":0.08},{"t":16.6,"p":-0.11,"s":-0.02},{"t":16.65,"p":-0.07,"s":0.12},{"t":16.7,"p":-0.105,"s":-0.06},{"t":16.75,"p":-0.065,"s":0.04},{"t":16.8,"p":-0.1,"s":-0.08},{"t":16.85,"p":-0.075,"s":0.06},{"t":16.9,"p":-0.1,"s":-0.03},{"t":16.95,"p":-0.06,"s":0.05},
{"t":17,"p":-0.095,"s":-0.08},{"t":17.05,"p":-0.06,"s":0.07},{"t":17.1,"p":-0.09,"s":-0.03},{"t":17.15,"p":-0.055,"s":0.04},{"t":17.2,"p":-0.085,"s":-0.05},{"t":17.25,"p":-0.05,"s":0.06},{"t":17.3,"p":-0.09,"s":0.15},{"t":17.35,"p":-0.055,"s":-0.05},{"t":17.4,"p":-0.08,"s":0.08},{"t":17.45,"p":-0.045,"s":-0.04},
{"t":17.5,"p":-0.08,"s":0.06},{"t":17.55,"p":-0.045,"s":-0.06},{"t":17.6,"p":-0.075,"s":0.03},{"t":17.65,"p":-0.035,"s":-0.04},{"t":17.7,"p":-0.07,"s":-0.12},{"t":17.75,"p":-0.04,"s":0.03},{"t":17.8,"p":-0.065,"s":0.11},{"t":17.85,"p":-0.03,"s":-0.03},{"t":17.9,"p":-0.06,"s":0.05},{"t":17.95,"p":-0.025,"s":-0.07},
{"t":18,"p":-0.06,"s":0.05},{"t":18.05,"p":-0.025,"s":-0.04},{"t":18.1,"p":-0.055,"s":0.08},{"t":18.15,"p":-0.02,"s":-0.02},{"t":18.2,"p":-0.05,"s":0.06},{"t":18.25,"p":-0.015,"s":-0.07},{"t":18.3,"p":-0.045,"s":0.03},{"t":18.35,"p":-0.02,"s":-0.04},{"t":18.4,"p":-0.04,"s":0.07},{"t":18.45,"p":-0.005,"s":-0.05},
{"t":18.5,"p":-0.04,"s":0.04},{"t":18.55,"p":-0.005,"s":-0.06},{"t":18.6,"p":-0.035,"s":-0.09},{"t":18.65,"p":0,"s":0.07},{"t":18.7,"p":-0.03,"s":-0.02},{"t":18.75,"p":-0.01,"s":0.05},{"t":18.8,"p":-0.025,"s":-0.05},{"t":18.85,"p":0.005,"s":0.06},{"t":18.9,"p":-0.03,"s":-0.03},{"t":18.95,"p":0.01,"s":0.04},
{"t":19,"p":-0.025,"s":-0.05},{"t":19.05,"p":0.01,"s":0.09},{"t":19.1,"p":-0.02,"s":-0.03},{"t":19.15,"p":0.015,"s":0.06},{"t":19.2,"p":-0.015,"s":-0.07},{"t":19.25,"p":0.02,"s":0.04},{"t":19.3,"p":-0.01,"s":-0.02},{"t":19.35,"p":0.025,"s":0.08},{"t":19.4,"p":-0.02,"s":-0.04},{"t":19.45,"p":0.015,"s":0.03},
{"t":19.5,"p":-0.015,"s":0.11},{"t":19.55,"p":0.025,"s":-0.04},{"t":19.6,"p":-0.01,"s":0.05},{"t":19.65,"p":0.03,"s":-0.06},{"t":19.7,"p":-0.02,"s":0.02},{"t":19.75,"p":0.02,"s":0.07},{"t":19.8,"p":-0.025,"s":-0.05},{"t":19.85,"p":0.015,"s":0.04},{"t":19.9,"p":-0.03,"s":-0.06},{"t":19.95,"p":0.01,"s":0.03},
{"t":20,"p":-0.01,"s":-0.04}
]
},
"vconcat": [
{
  "width": 443, "height": 348,
  "data": {"name": "a"},
  "title": {"text": "(a)\u00a0 errors in x direction", "dx": -19},
  "encoding": {
    "x": {"field": "t", "type": "quantitative", "scale": {"domain": [0, 20], "nice": false, "zero": false}, "axis": {"title": "time [s]", "values": [0,2,4,6,8,10,12,14,16,18,20], "titlePadding": 2}}
  },
  "layer": [
    {"mark": {"type": "line", "strokeWidth": 1, "clip": true},
     "encoding": {
       "y": {"field": "p", "type": "quantitative", "scale": {"domain": [-0.4, 0.3], "nice": false, "zero": false}, "axis": {"title": "error\u2093 [um]", "values": [-0.4,-0.3,-0.2,-0.1,0,0.1,0.2,0.3], "labelExpr": "toString(datum.value)", "titlePadding": 4, "titleY": 152}},
       "color": {"datum": "PID", "type": "nominal", "scale": {"domain": ["PID", "SMC with DOB"], "range": ["#ff0000", "#0000ff"]}, "legend": {"title": null}}
     }},
    {"mark": {"type": "line", "strokeWidth": 1, "clip": true},
     "encoding": {
       "y": {"field": "s", "type": "quantitative", "axis": {"title": "error\u2093 [um]", "values": [-0.4,-0.3,-0.2,-0.1,0,0.1,0.2,0.3], "labelExpr": "toString(datum.value)", "titlePadding": 4, "titleY": 152}},
       "color": {"datum": "SMC with DOB", "type": "nominal"}
     }}
  ]
},
{
  "width": 478, "height": 363,
  "data": {"name": "b"},
  "title": {"text": "(b)\u00a0 errors in y direction", "dx": -19},
  "encoding": {
    "x": {"field": "t", "type": "quantitative", "scale": {"domain": [0, 20], "nice": false, "zero": false}, "axis": {"title": "time [s]", "values": [0,2,4,6,8,10,12,14,16,18,20], "titlePadding": 2}}
  },
  "layer": [
    {"mark": {"type": "line", "strokeWidth": 1, "clip": true},
     "encoding": {
       "y": {"field": "p", "type": "quantitative", "scale": {"domain": [-0.3, 0.2], "nice": false, "zero": false}, "axis": {"title": "error\u1d67 [um]", "values": [-0.3,-0.25,-0.2,-0.15,-0.1,-0.05,0,0.05,0.1,0.15,0.2], "labelExpr": "toString(datum.value)", "titlePadding": 14, "titleY": 165}},
       "color": {"datum": "PID", "type": "nominal", "scale": {"domain": ["PID", "SMC with DOB"], "range": ["#ff0000", "#0000ff"]}, "legend": {"title": null}}
     }},
    {"mark": {"type": "line", "strokeWidth": 1, "clip": true},
     "encoding": {
       "y": {"field": "s", "type": "quantitative", "axis": {"title": "error\u1d67 [um]", "values": [-0.3,-0.25,-0.2,-0.15,-0.1,-0.05,0,0.05,0.1,0.15,0.2], "labelExpr": "toString(datum.value)", "titlePadding": 14, "titleY": 165}},
       "color": {"datum": "SMC with DOB", "type": "nominal"}
     }}
  ]
}
],
"resolve": {"scale": {"color": "independent", "y": "independent"}, "legend": {"color": "independent"}}
}
